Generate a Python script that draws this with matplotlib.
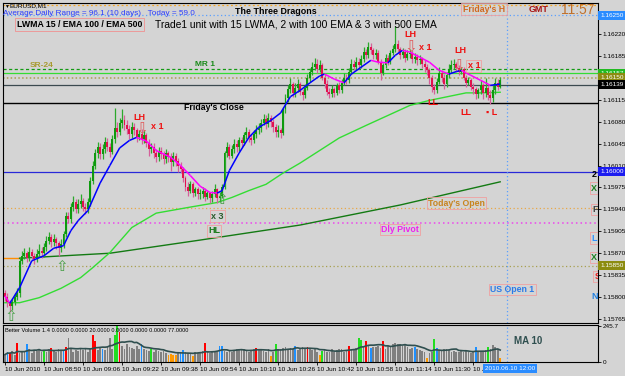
import numpy as np
import pandas as pd
import matplotlib
matplotlib.use("Agg")
import matplotlib.pyplot as plt
from matplotlib.collections import LineCollection

# EURUSD M1, 10 Jun 2010 08:34 -> 11:57 GMT
# prices are points above 1.15000 (5 digit quotes), one value per bar
close_pts = [
    800, 792, 786, 792, 800, 806, 858, 866,
    870, 862, 872, 866, 860, 868, 874, 870,
    880, 890, 896, 888, 892, 886, 878, 884,
    900, 930, 924, 944, 952, 940, 948, 954,
    944, 940, 952, 985, 1010, 1030, 1040, 1028,
    1036, 1048, 1040, 1032, 1052, 1070, 1064, 1078,
    1082, 1074, 1068, 1060, 1072, 1066, 1056, 1060,
    1052, 1058, 1046, 1036, 1040, 1030, 1024, 1034,
    1028, 1020, 1030, 1024, 1016, 1026, 1018, 1010,
    1004, 990, 976, 970, 980, 966, 972, 964,
    964, 970, 960, 966, 958, 964, 972, 958,
    962, 975, 1030, 1040, 1026, 1036, 1044, 1040,
    1050, 1046, 1058, 1064, 1054, 1050, 1060, 1066,
    1070, 1078, 1084, 1076, 1086, 1080, 1072, 1064,
    1066, 1062, 1100, 1118, 1132, 1140, 1126, 1134,
    1140, 1128, 1122, 1134, 1150, 1160, 1168, 1172,
    1164, 1170, 1150, 1140, 1128, 1124, 1132, 1126,
    1138, 1130, 1142, 1150, 1146, 1160, 1172, 1168,
    1176, 1170, 1180, 1192, 1186, 1200, 1194, 1186,
    1190, 1176, 1158, 1170, 1182, 1176, 1190, 1196,
    1204, 1196, 1186, 1192, 1182, 1188, 1190, 1180,
    1184, 1178, 1180, 1172, 1168, 1162, 1150, 1136,
    1130, 1144, 1158, 1150, 1140, 1154, 1164, 1170,
    1172, 1166, 1160, 1164, 1150, 1142, 1146, 1136,
    1132, 1124, 1130, 1138, 1126, 1134, 1122, 1118,
    1130, 1142, 1136, 1146,
]
high_pts = [
    812, 806, 796, 798, 806, 814, 864, 874,
    878, 874, 880, 876, 870, 876, 884, 880,
    886, 898, 904, 900, 900, 896, 890, 892,
    906, 936, 936, 950, 962, 956, 956, 964,
    958, 950, 958, 992, 1018, 1036, 1048, 1046,
    1044, 1056, 1054, 1046, 1058, 1102, 1080, 1086,
    1100, 1090, 1082, 1074, 1080, 1078, 1070, 1066,
    1068, 1066, 1062, 1052, 1046, 1046, 1036, 1040,
    1040, 1034, 1036, 1034, 1030, 1032, 1030, 1022,
    1016, 1008, 994, 984, 986, 984, 976, 976,
    972, 976, 974, 970, 968, 970, 980, 974,
    968, 980, 1034, 1048, 1044, 1042, 1052, 1050,
    1056, 1056, 1064, 1072, 1068, 1060, 1066, 1074,
    1078, 1084, 1092, 1090, 1094, 1090, 1084, 1076,
    1074, 1070, 1104, 1124, 1138, 1150, 1144, 1142,
    1148, 1144, 1132, 1140, 1156, 1166, 1176, 1182,
    1180, 1178, 1174, 1156, 1146, 1134, 1138, 1136,
    1142, 1144, 1148, 1158, 1156, 1166, 1180, 1178,
    1184, 1182, 1186, 1200, 1196, 1208, 1206, 1198,
    1196, 1194, 1180, 1174, 1188, 1186, 1194, 1202,
    1232, 1210, 1200, 1198, 1196, 1194, 1196, 1194,
    1190, 1188, 1186, 1184, 1178, 1172, 1166, 1154,
    1140, 1150, 1168, 1162, 1156, 1160, 1172, 1178,
    1180, 1176, 1170, 1168, 1168, 1154, 1152, 1150,
    1142, 1136, 1134, 1146, 1142, 1150, 1138, 1130,
    1140, 1150, 1148, 1152,
]
low_pts = [
    794, 784, 776, 780, 788, 796, 800, 852,
    860, 856, 858, 860, 852, 856, 864, 862,
    864, 874, 884, 880, 882, 876, 866, 872,
    878, 896, 918, 918, 938, 934, 934, 942,
    938, 932, 934, 946, 980, 1004, 1022, 1020,
    1020, 1030, 1034, 1024, 1028, 1046, 1056, 1058,
    1070, 1066, 1060, 1052, 1054, 1058, 1048, 1050,
    1044, 1046, 1040, 1026, 1030, 1022, 1016, 1018,
    1020, 1012, 1014, 1016, 1002, 1010, 1010, 1000,
    998, 984, 970, 962, 966, 960, 962, 956,
    956, 958, 954, 956, 950, 952, 960, 950,
    952, 958, 972, 1024, 1020, 1022, 1030, 1032,
    1034, 1040, 1042, 1052, 1048, 1042, 1046, 1054,
    1060, 1064, 1074, 1068, 1072, 1072, 1064, 1056,
    1056, 1054, 1058, 1094, 1112, 1126, 1120, 1120,
    1128, 1122, 1114, 1118, 1130, 1144, 1154, 1162,
    1158, 1160, 1146, 1134, 1122, 1118, 1120, 1120,
    1122, 1126, 1126, 1138, 1140, 1142, 1156, 1162,
    1162, 1164, 1166, 1176, 1180, 1182, 1188, 1180,
    1180, 1172, 1146, 1154, 1166, 1170, 1172, 1186,
    1192, 1190, 1180, 1182, 1176, 1178, 1182, 1174,
    1174, 1170, 1172, 1166, 1160, 1154, 1140, 1128,
    1124, 1126, 1140, 1144, 1132, 1136, 1150, 1158,
    1164, 1160, 1154, 1156, 1146, 1136, 1138, 1130,
    1124, 1116, 1118, 1124, 1116, 1120, 1114, 1108,
    1112, 1124, 1130, 1134,
]
first_open_pts = 806

# tick volume and the Better Volume colour code per bar
# g grey, r red, b blue, G green, o orange
volume = [
    50, 70, 60, 75, 45, 130, 60, 70,
    70, 120, 90, 60, 80, 75, 85, 65,
    80, 70, 85, 95, 75, 70, 90, 80,
    80, 100, 160, 90, 70, 80, 75, 85,
    80, 85, 70, 90, 185, 140, 80, 100,
    90, 80, 100, 160, 90, 180, 240, 200,
    110, 90, 120, 100, 95, 85, 105, 90,
    125, 90, 80, 75, 85, 70, 80, 75,
    70, 75, 60, 50, 55, 45, 50, 65,
    70, 80, 65, 60, 55, 40, 65, 60,
    70, 75, 130, 65, 60, 70, 65, 70,
    110, 105, 75, 70, 80, 65, 75, 90,
    85, 80, 90, 75, 70, 80, 85, 95,
    80, 90, 75, 70, 85, 40, 70, 125,
    90, 85, 95, 100, 90, 95, 85, 110,
    80, 90, 100, 85, 100, 95, 80, 90,
    70, 50, 75, 80, 65, 70, 85, 70,
    80, 90, 85, 70, 80, 105, 85, 90,
    95, 165, 150, 100, 145, 110, 95, 100,
    100, 110, 95, 145, 90, 105, 100, 125,
    130, 125, 120, 110, 125, 100, 90, 95,
    100, 90, 80, 75, 70, 30, 60, 65,
    155, 95, 80, 75, 85, 90, 80, 70,
    75, 70, 65, 80, 70, 75, 65, 60,
    70, 100, 70, 75, 65, 80, 100, 90,
    115, 100, 85, 30,
]
volume_codes = ("gbrggrgg" "gbgggggg" "Gggrgggg" "brgggggg" "ggggrrgg"
                "bggggGGr" "gggggggg" "bgggGggg" "gggoooog" "bbgggogg"
                "ggrggggg" "bbgggggg" "gggggggr" "gggggogG" "gggggggb"
                "ggggrggg" "goGggggg" "gggggrgg" "gGGgrgbg" "gggrgggg"
                "gggggggg" "bggggogg" "Gbgggggg" "gggggggg" "gbggggGg"
                "gggo")

# indicator lines as (bar, points) pairs
lwma_bars = [0, 2, 6, 11, 16, 20, 24, 27, 30, 34, 39, 43, 47, 51, 54, 58, 62, 68,
             72, 76, 80, 84, 87, 89, 92, 96, 100, 104, 109, 113, 117, 121, 125,
             129, 131, 135, 139, 142, 146, 150, 153, 157, 160, 163, 166, 170,
             174, 178, 182, 185, 187, 191, 195, 199, 203]
lwma_pts = [802, 790, 815, 858, 866, 878, 882, 906, 922, 938, 982, 1010, 1038,
            1050, 1055, 1049, 1034, 1023, 1010, 994, 977, 967, 966, 970, 1002,
            1030, 1055, 1071, 1082, 1094, 1120, 1130, 1142, 1153, 1156, 1148,
            1142, 1156, 1167, 1178, 1175, 1174, 1186, 1194, 1191, 1183, 1175,
            1162, 1156, 1160, 1162, 1154, 1146, 1138, 1140]
ema100_bars = [0, 6, 14, 23, 31, 36, 43, 52, 62, 75, 87, 93, 100, 107, 114, 121,
               129, 137, 148, 157, 166, 174, 184, 189, 195, 203]
ema100_pts = [791, 791, 799, 814, 831, 847, 871, 911, 934, 943, 951, 959, 970,
              980, 998, 1014, 1034, 1054, 1074, 1090, 1106, 1114, 1122, 1126,
              1126, 1127]
ema500_bars = [6, 43, 80, 121, 162, 203]
ema500_pts = [862, 870, 891, 915, 947, 984]
prev_line_bars = [-1, 6]
prev_line_pts = [862, 862]

# horizontal levels (points)
fri_high_pts = 1266
blue_top_pts = 1250
mr1_pts = 1164
green_line_pts = 1157
sr24_pts = 1150
grey_line_pts = 1139
fri_close_pts = 1110
round_pts = 1000
today_open_pts = 942
pivot_pts = 919
low_olive_pts = 850

price_ticks_pts = [765, 800, 835, 870, 905, 940, 975, 1010, 1045, 1080, 1115, 1185, 1220]
time_ticks = [0, 16, 32, 48, 64, 80, 96, 112, 128, 144, 160, 176, 192]
time_labels = ["10 Jun 2010", "10 Jun 08:50", "10 Jun 09:06", "10 Jun 09:22",
               "10 Jun 09:38", "10 Jun 09:54", "10 Jun 10:10", "10 Jun 10:26",
               "10 Jun 10:42", "10 Jun 10:58", "10 Jun 11:14", "10 Jun 11:30",
               "10 Jun 11:46"]
now_bar = 206


def px(v):
    # points above 1.15000 -> price
    return 1.15 + np.asarray(v, dtype=float) / 1e5


plt.rcParams['font.family'] = ['Liberation Sans', 'DejaVu Sans']
BG = '#d4d4d4'

n = len(close_pts)
bars = np.arange(n)
c = px(close_pts)
o = px([first_open_pts] + close_pts[:-1])
h = px(high_pts)
l = px(low_pts)

fig = plt.figure(figsize=(6.25, 3.76), dpi=100, facecolor=BG)
ax = fig.add_axes([3 / 625, 53 / 376, 595 / 625, 320 / 376], facecolor=BG)
vax = fig.add_axes([3 / 625, 14 / 376, 595 / 625, 37 / 376], facecolor=BG)

# levels
ax.axhline(px(fri_high_pts), color='#f5a623', ls=(0, (1.5, 2)), lw=0.9, zorder=1)
ax.axhline(px(blue_top_pts), color='#5aa0ff', ls=(0, (1, 2)), lw=0.9, zorder=1)
ax.axhline(px(mr1_pts), color='#139a13', ls=(0, (2.5, 2)), lw=0.9, zorder=1)
ax.axhline(px(green_line_pts), color='#33dd33', lw=0.9, zorder=1)
ax.axhline(px(sr24_pts), color='#a8a050', ls=(0, (1, 1.5)), lw=1.1, zorder=1)
ax.axhline(px(grey_line_pts), color='#3c4a50', lw=0.9, zorder=1)
ax.axhline(px(fri_close_pts), color='black', lw=1.0, zorder=1)
ax.axhline(px(round_pts), color='#2828d8', lw=0.9, zorder=1)
ax.axhline(px(today_open_pts), color='#e8a848', ls=(0, (1, 2)), lw=0.9, zorder=1)
ax.axhline(px(pivot_pts), color='#ee44ee', ls=(0, (1, 2)), lw=1.1, zorder=1)
ax.axhline(px(low_olive_pts), color='#a8a050', ls=(0, (1, 2)), lw=0.9, zorder=1)
for a in (ax, vax):
    a.axvline(now_bar, color='#5aa0ff', ls=(0, (1, 2)), lw=0.9, zorder=1)

# moving averages under the candles
ax.plot(prev_line_bars, px(prev_line_pts), color='#ff8c00', lw=1.0, zorder=2)
ax.plot(ema500_bars, px(ema500_pts), color='#137a13', lw=1.0, zorder=2)
ax.plot(ema100_bars, px(ema100_pts), color='#33dd33', lw=1.0, zorder=2)

# candles
up = c >= o
body_col = np.where(up, '#0e9a0e', '#e2124e')
wick_col = np.where(up, '#2ca82c', '#d4609a')
ax.vlines(bars, l, h, colors=wick_col, lw=0.9, zorder=3)
ax.bar(bars, np.maximum(np.abs(c - o), 0.000015), bottom=np.minimum(o, c),
       width=0.8, color=body_col, lw=0, zorder=3)

# LWMA 15, blue when rising, magenta when falling
lx = np.array(lwma_bars)
ly = px(lwma_pts)
segs = [[(lx[i], ly[i]), (lx[i + 1], ly[i + 1])] for i in range(len(lx) - 1)]
seg_cols = ['#0000ff' if ly[i + 1] >= ly[i] else '#ff00ff' for i in range(len(lx) - 1)]
ax.add_collection(LineCollection(segs, colors=seg_cols, lw=1.1, zorder=4))

ax.set_xlim(-0.8, 243.1)
ax.set_ylim(px(758.6), px(1269.5))
ax.set_xticks([])
ax.yaxis.tick_right()
ax.set_yticks(px(price_ticks_pts))
ax.set_yticklabels([f"{p:.5f}" for p in px(price_ticks_pts)])
ax.tick_params(axis='y', direction='out', length=2, width=0.6, labelsize=4.6, pad=1.5)
for s in ax.spines.values():
    s.set_color('black')
    s.set_linewidth(0.8)

# coloured price boxes on the right scale
def price_box(pts, text, bg):
    ax.text(1.004, px(pts), text, transform=ax.get_yaxis_transform(), fontsize=4.6,
            color='white', va='center', ha='left', clip_on=False, zorder=6,
            bbox=dict(boxstyle='square,pad=0.3', fc=bg, ec='none'))

price_box(blue_top_pts, f"{px(blue_top_pts):.5f}", '#2a8cff')
price_box(green_line_pts, f"{px(green_line_pts):.5f}", '#22bb22')
price_box(sr24_pts, f"{px(sr24_pts):.5f}", '#8c8c10')
price_box(grey_line_pts, f"{px(grey_line_pts):.5f}", '#000000')
price_box(round_pts, f"{px(round_pts):.5f}", '#1c1cf0')
price_box(low_olive_pts, f"{px(low_olive_pts):.5f}", '#8c8c10')

# chart annotations
def atext(b, pts, s, **kw):
    ax.text(b, px(pts), s, ha='center', va='center', zorder=6, **kw)

pink_box = dict(boxstyle='square,pad=0.15', fc='none', ec='#f0a0a0', lw=0.6)
RED = '#ee1111'
ARROW = dict(fontsize=11, family='DejaVu Sans')
atext(55, 1087, 'LH', color=RED, fontsize=6.5, weight='bold')
atext(56, 1068, '⇩', color='#e05a5a', **ARROW)
atext(62.3, 1073, 'x 1', color=RED, fontsize=6.5, weight='bold')
atext(87, 929, 'x 3', color='#2a5a2a', fontsize=6.5, weight='bold', bbox=pink_box)
atext(85.7, 906, 'HL', color='#1a7a1a', fontsize=6.5, weight='bold', bbox=pink_box)
atext(89, 955, '⇧', color='#4aa04a', **ARROW)
atext(2.5, 769, '⇧', color='#4aa04a', **ARROW)
atext(23.4, 849, '⇧', color='#4aa04a', **ARROW)
atext(166, 1220, 'LH', color=RED, fontsize=6.5, weight='bold')
atext(166.5, 1199, '⇩', color='#e05a5a', **ARROW)
atext(172.3, 1198, 'x 1', color=RED, fontsize=6.5, weight='bold')
atext(186.5, 1193, 'LH', color=RED, fontsize=6.5, weight='bold')
atext(186, 1170, '⇩', color='#e05a5a', **ARROW)
atext(192.2, 1169, 'x 1', color=RED, fontsize=6.5, weight='bold', bbox=pink_box)
atext(175.4, 1111, 'LL', color=RED, fontsize=6.5, weight='bold')
atext(189, 1095, 'LL', color=RED, fontsize=6.5, weight='bold')
atext(199.6, 1095, '▪ L', color=RED, fontsize=6.5, weight='bold')
atext(185, 950, "Today's Open", color='#c8841e', fontsize=6.3, weight='bold', bbox=pink_box)
atext(162, 908, 'Dly Pivot', color='#ee22ee', fontsize=6.3, weight='bold', bbox=pink_box)
atext(208, 812, 'US Open 1', color='#2a7ae8', fontsize=6.3, weight='bold', bbox=pink_box)
atext(85.6, 1102, "Friday's Close", color='black', fontsize=6.3, weight='bold')
atext(15, 1170, 'SR-24', color='#a89a30', fontsize=6, weight='bold')
atext(82, 1172, 'MR 1', color='#1a8a1a', fontsize=6, weight='bold')

# partly hidden markers at the right edge
edge = dict(ha='center', va='center', zorder=6, clip_on=True, fontsize=6.5, weight='bold')
ax.text(241.6, px(996), '2', color='black', **edge)
ax.text(241.6, px(974), 'X', color='#208020', bbox=pink_box, **edge)
ax.text(242, px(940), 'F', color='#404040', bbox=pink_box, **edge)
ax.text(241.6, px(894), 'L', color='#3090ff', bbox=pink_box, **edge)
ax.text(241.6, px(863), 'X', color='#208020', bbox=pink_box, **edge)
ax.text(243, px(833), 'S', color='#ee2020', bbox=pink_box, **edge)
ax.text(241.6, px(801), 'N', color='#2080e0', **edge)

# volume panel
code_col = {'g': '#808080', 'r': '#ff0000', 'b': '#1e90ff', 'G': '#22dd22', 'o': '#ff9900'}
vax.bar(bars, volume, width=0.7, color=[code_col[k] for k in volume_codes], lw=0, zorder=2)
ma10 = pd.Series(volume, dtype=float).rolling(10, min_periods=1).mean()
vax.plot(bars, ma10, color='#2f4f4f', lw=1.2, zorder=3)
vax.set_xlim(-0.8, 243.1)
vax.set_ylim(0, 250)
vax.yaxis.tick_right()
vax.set_yticks([0, 245.7])
vax.set_yticklabels(['0', '245.7'])
vax.set_xticks(time_ticks)
vax.set_xticklabels(time_labels)
plt.setp(vax.get_xticklabels(), ha='left')
vax.tick_params(axis='both', direction='out', length=2, width=0.6, labelsize=4.6, pad=1.5)
for s in vax.spines.values():
    s.set_color('black')
    s.set_linewidth(0.8)
vax.text(now_bar + 1, -0.17, '2010.06.10 12:00', transform=vax.get_xaxis_transform(),
         fontsize=4.6, color='white', ha='center', va='center', clip_on=False, zorder=6,
         bbox=dict(boxstyle='square,pad=0.3', fc='#2a8cff', ec='none'))

# header texts, placed in pixels
def ftext(x, y, s, **kw):
    fig.text(x / 625, 1 - y / 376, s, va='center', **kw)

ftext(4, 6, '▼', fontsize=3.5, color='black')
ftext(10, 6, 'EURUSD,M1', fontsize=4.6)
ftext(3, 13.5, 'Average Daily Range = 96.1 (10 days)   Today = 59.0', fontsize=5.9, color='#2a3cff')
ftext(235, 12, 'The Three Dragons', fontsize=6.4, weight='bold')
ftext(17, 24.5, 'LWMA 15 / EMA 100 / EMA 500', fontsize=6.3, weight='bold',
      bbox=dict(boxstyle='square,pad=0.2', fc='none', ec='#f09090', lw=0.6))
ftext(155, 24.5, 'Trade1 unit with 15 LWMA, 2 with 100 EMA & 3 with 500 EMA', fontsize=7.4)
ftext(463, 9, "Friday's H", fontsize=6.3, weight='bold', color='#d2691e',
      bbox=dict(boxstyle='square,pad=0.2', fc='none', ec='#f0a0a0', lw=0.6))
ftext(529, 10, 'GMT', fontsize=6.4, weight='bold', color='#a81414')
ftext(561, 10, '11:57', fontsize=10, color='#c0702a')
ftext(514, 341, 'MA 10', fontsize=7, weight='bold', color='#2f4f4f')
ftext(5, 330, 'Better Volume 1.4 0.0000 0.0000 20.0000 0.0000 0.0000 0.0000 77.0000', fontsize=4.1)

fig.savefig('out.png', dpi=100, facecolor=BG)
